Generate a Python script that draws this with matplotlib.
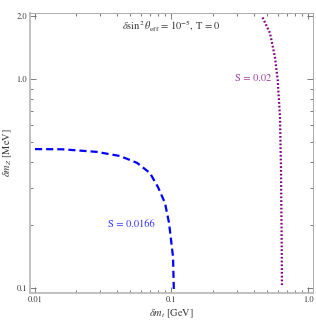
import numpy as np
import matplotlib.pyplot as plt
from matplotlib.ticker import FixedLocator, NullFormatter

plt.rcParams['font.family'] = ['STIXGeneral', 'DejaVu Sans']
plt.rcParams['mathtext.fontset'] = 'stix'

# S = 0.0166 contour (dm_t in GeV, dm_Z in MeV)
blue_x = [0.010, 0.016, 0.0284, 0.042, 0.0559, 0.0695, 0.0796, 0.0896, 0.0959, 0.1026, 0.104]
blue_y = [0.462, 0.461, 0.448, 0.428, 0.397, 0.355, 0.304, 0.255, 0.205, 0.141, 0.098]

# S = 0.02 contour
purple_x = [0.465, 0.527, 0.573, 0.600, 0.624, 0.634, 0.641, 0.645]
purple_y = [1.97, 1.66, 1.27, 0.99, 0.658, 0.379, 0.183, 0.101]

x_major = [0.01, 0.1, 1.0]
x_labels = ['0.01', '0.1', '1.0']
y_major = [0.1, 1.0, 2.0]
y_labels = ['0.1', '1.0', '2.0']

fig = plt.figure(figsize=(3.16, 3.22), dpi=100)
ax = fig.add_axes([30 / 316, 29 / 322, 283 / 316, 280 / 322])
ax.set_xscale('log')
ax.set_yscale('log')

ax.plot(blue_x, blue_y, color='#0000ff', lw=1.6, ls=(0, (3.2, 1.8)))
ax.plot(purple_x, purple_y, color='#800080', lw=1.6, ls=(0, (0.8, 0.9)))

ax.set_xlim(10 ** -2.037, 10 ** 0.037)
ax.set_ylim(10 ** -1.024, 10 ** 0.316)

minor_x = [m * 10.0 ** e for e in (-2, -1) for m in range(2, 10)]
minor_y = [m * 0.1 for m in range(2, 10)]
ax.xaxis.set_major_locator(FixedLocator(x_major))
ax.xaxis.set_minor_locator(FixedLocator(minor_x))
ax.yaxis.set_major_locator(FixedLocator(y_major))
ax.yaxis.set_minor_locator(FixedLocator(minor_y))
ax.set_xticklabels(x_labels)
ax.set_yticklabels(y_labels)
ax.xaxis.set_minor_formatter(NullFormatter())
ax.yaxis.set_minor_formatter(NullFormatter())

ax.tick_params(which='both', direction='in', top=True, right=True,
               color='#666666', width=0.6, labelsize=6, labelcolor='#333333', pad=2)
ax.tick_params(which='major', length=4)
ax.tick_params(which='minor', length=2.5)

for side in ['left', 'bottom']:
    ax.spines[side].set_color('#bbbbbb')
    ax.spines[side].set_linewidth(1.3)
for side in ['top', 'right']:
    ax.spines[side].set_color('#aaaaaa')
    ax.spines[side].set_linewidth(0.7)

ax.set_xlabel(r'$\delta m_t$ [GeV]', fontsize=7.5, color='#333333', labelpad=3)
ax.set_ylabel(r'$\delta m_Z$ [MeV]', fontsize=7.5, color='#333333', labelpad=2)

ax.text(0.5, 0.955, r'$\delta \sin^2\theta_{\rm eff}$ = $10^{-5}$, T = 0',
        transform=ax.transAxes, ha='center', va='center', fontsize=7.5, color='#333333')
ax.text(10 ** (-2 + (131 - 35) / 136.5), 10 ** (-1 + (288 - 224) / 209),
        'S = 0.0166', color='#3333ff', fontsize=7.5, ha='center', va='center')
ax.text(10 ** (-2 + (253 - 35) / 136.5), 10 ** (-1 + (288 - 78) / 209),
        'S = 0.02', color='#a040a0', fontsize=7.5, ha='center', va='center')

fig.savefig('out.png', dpi=100)
